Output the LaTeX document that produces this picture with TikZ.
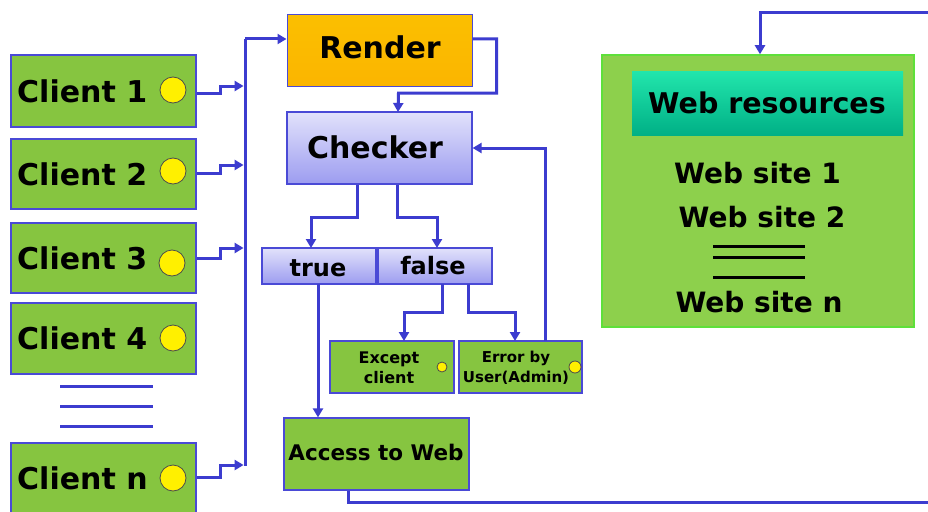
\documentclass[tikz,border=0pt]{standalone}
\usepackage{fontspec}
\setmainfont{DejaVu Sans}
\usetikzlibrary{arrows.meta,calc}
\definecolor{lineblue}{HTML}{3C3CCF}
\definecolor{clientgreen}{HTML}{86C540}
\definecolor{webgreen}{HTML}{8DD04C}
\definecolor{webborder}{HTML}{5EE03A}
\definecolor{boxborder}{HTML}{4A4AD6}
\definecolor{renderorange}{HTML}{FBB800}
\definecolor{dotyellow}{HTML}{FFF000}
\definecolor{purpletop}{HTML}{E2E2FB}
\definecolor{purplebot}{HTML}{9C9CF0}
\definecolor{tealtop}{HTML}{22E6AC}
\definecolor{tealbot}{HTML}{00B086}
\newcommand{\fs}[1]{\fontsize{#1}{#1}\selectfont\bfseries}
\tikzset{
  conn/.style={draw=lineblue, line width=3pt},
  arr/.style={conn, -{Triangle[length=9pt,width=10pt]}},
  gbox/.style={draw=boxborder, line width=1.2pt, fill=clientgreen, rectangle, inner sep=0pt},
  pbox/.style={draw=boxborder, line width=1.2pt, top color=purpletop, bottom color=purplebot, rectangle, inner sep=0pt},
  dot/.style={circle, draw=black!70, line width=0.8pt, fill=dotyellow, inner sep=0pt},
  txt/.style={inner sep=0pt, text=black},
}
\begin{document}
\begin{tikzpicture}[x=1pt,y=-1pt]
\useasboundingbox (0,0) rectangle (928,511);
\fill[white] (0,0) rectangle (928,511);

% Clients
\node[gbox, minimum width=185pt, minimum height=72pt] (c1) at (103.5,91) {};
\node[gbox, minimum width=185pt, minimum height=70pt] (c2) at (103.5,174) {};
\node[gbox, minimum width=185pt, minimum height=70pt] (c3) at (103.5,258) {};
\node[gbox, minimum width=185pt, minimum height=71pt] (c4) at (103.5,338.5) {};
\node[gbox, minimum width=185pt, minimum height=72pt] (cn) at (103.5,479) {};
\node[txt, anchor=west] (t1) at (17,91) {\fs{30}Client 1};
\node[txt, anchor=west] (t2) at (17,174) {\fs{30}Client 2};
\node[txt, anchor=west] (t3) at (17,258) {\fs{30}Client 3};
\node[txt, anchor=west] (t4) at (17,338) {\fs{30}Client 4};
\node[txt, anchor=west] (tn) at (17,478) {\fs{30}Client n};
\node[dot, minimum size=26pt] (d1) at (173,90) {};
\node[dot, minimum size=26pt] (d2) at (173,171) {};
\node[dot, minimum size=26pt] (d3) at (172,263) {};
\node[dot, minimum size=26pt] (d4) at (173,338) {};
\node[dot, minimum size=26pt] (dn) at (173,478) {};
\foreach \yy in {386,406,426} \draw[conn] (60,\yy) -- (153,\yy);

% Bus
\coordinate (bustop) at (245,39);
\coordinate (busbot) at (245,466);
\draw[conn] (bustop) -- (busbot);
\draw[arr] ($(c1.east)+(0,2)$) -- ++(24,0) -- ++(0,-7) -- ++(23,0);
\draw[arr] ($(c2.east)+(0,-1)$) -- ++(24,0) -- ++(0,-8) -- ++(23,0);
\draw[arr] ($(c3.east)+(0,0)$) -- ++(24,0) -- ++(0,-10) -- ++(23,0);
\draw[arr] ($(cn.east)+(0,-2)$) -- ++(24,0) -- ++(0,-12) -- ++(23,0);

% Render & Checker
\node[rectangle, draw=boxborder, line width=1pt, top color=renderorange!90!yellow, bottom color=renderorange!95!orange, minimum width=185pt, minimum height=71pt] (render) at (379.5,50.5) {};
\node[txt] (rtext) at (380,47) {\fs{30}Render};
\node[pbox, minimum width=185pt, minimum height=72pt] (checker) at (379.5,148) {};
\node[txt] (ctext) at (375,147) {\fs{30}Checker};
\draw[arr] (bustop) -- (render.west |- bustop);
\draw[arr] ($(render.east)+(0,-11.5)$) -- ++(24,0) -- ++(0,54) -- ++(-98,0) -- (398,112);

% true / false
\node[pbox, minimum width=114pt, minimum height=36pt] (true) at (319,266) {};
\node[pbox, minimum width=114pt, minimum height=36pt] (false) at (435,266) {};
\node[txt] (ttrue) at (318,268) {\fs{24}true};
\node[txt] (tfalse) at (433,266) {\fs{24}false};
\draw[arr] ($(checker.south)+(-22.5,0)$) -- ++(0,33) -- ++(-46,0) -- (311,248);
\draw[arr] ($(checker.south)+(17.5,0)$) -- ++(0,33) -- ++(40,0) -- (437,248);

% Except / Error
\node[gbox, minimum width=124pt, minimum height=52pt] (except) at (392,367) {};
\node[gbox, minimum width=123pt, minimum height=52pt] (error) at (520.5,367) {};
\node[txt, align=center] (texcept) at (389,368) {\fs{16}Except\\[3pt]\fs{16}client};
\node[txt, align=center] (terror) at (516,368) {\fs{15}Error by\\[4pt]\fs{15}User(Admin)};
\node[dot, minimum size=10pt] (dex) at (442,367) {};
\node[dot, minimum size=12pt] (der) at (575,367) {};
\draw[arr] (442,284) -- (442,312) -- (404,312) -- (404,341);
\draw[arr] (468,284) -- (468,312) -- (515,312) -- (515,341);
\draw[arr] (545,341) -- (545,148) -- (checker.east);

% Access
\node[gbox, minimum width=185pt, minimum height=72pt] (access) at (376.5,454) {};
\node[txt] (taccess) at (376,452) {\fs{21.5}Access to Web};
\draw[arr] (318,284) -- (access.north -| 318,0);

% Web resources
\node[rectangle, fill=webgreen, draw=webborder, line width=1.5pt, minimum width=312pt, minimum height=272pt] (web) at (758,191) {};
\node[rectangle, top color=tealtop, bottom color=tealbot, minimum width=271pt, minimum height=64pt] (webres) at (767.5,103) {};
\node[txt] (twebres) at (767,103) {\fs{28.5}Web resources};
\node[txt] (ws1) at (757.5,173) {\fs{28}Web site 1};
\node[txt] (ws2) at (762,217) {\fs{28}Web site 2};
\node[txt] (wsn) at (759,302) {\fs{28}Web site n};
\foreach \yy in {246,257,277} \draw[black, line width=3pt] (713,\yy) -- (805,\yy);

\draw[arr] (access.south -| 348,0) -- (348,502) -- (940,502) -- (940,13) -- (760,13) -- (web.north -| 760,0);
\end{tikzpicture}
\end{document}
